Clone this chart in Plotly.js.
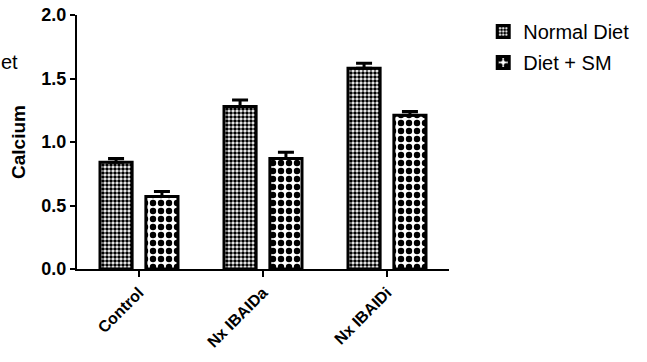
<!DOCTYPE html>
<html>
<head>
<meta charset="utf-8">
<script src="https://cdn.plot.ly/plotly-3.0.1.min.js"></script>
<style>html,body{margin:0;padding:0;background:#fff;}#chart{width:647px;height:362px;}</style>
</head>
<body>
<div id="chart"></div>
<script>
var categories = ["Control", "Nx IBAIDa", "Nx IBAIDi"];
var normalDiet = [0.84, 1.28, 1.58];
var normalDietErr = [0.03, 0.05, 0.04];
var dietSM = [0.57, 0.87, 1.21];
var dietSMErr = [0.04, 0.05, 0.03];
var yTicks = [0, 0.5, 1.0, 1.5, 2.0];
var yTickLabels = ["0.0", "0.5", "1.0", "1.5", "2.0"];

var F = "Arial, 'Liberation Sans', sans-serif";

var traces = [
  {
    type: "bar", name: "Normal Diet", x: categories, y: normalDiet,
    legendgroup: "a",
    marker: {color: "#ffffff", line: {color: "#000", width: 3},
      pattern: {shape: ".", size: 4, solidity: 0.62, fgcolor: "#000", fgopacity: 1, bgcolor: "#fff", fillmode: "overlay"}},
    error_y: {type: "data", array: normalDietErr, arrayminus: [0,0,0], symmetric: false,
      color: "#000", thickness: 3, width: 8}
  },
  {
    type: "bar", name: "Diet + SM", x: categories, y: dietSM,
    legendgroup: "b",
    marker: {color: "#ffffff", line: {color: "#000", width: 3},
      pattern: {shape: ".", size: 8, solidity: 0.5, fgcolor: "#000", fgopacity: 1, bgcolor: "#fff", fillmode: "overlay"}},
    error_y: {type: "data", array: dietSMErr, arrayminus: [0,0,0], symmetric: false,
      color: "#000", thickness: 3, width: 8}
  }
];

var layout = {
  width: 647, height: 362,
  margin: {l: 77, r: 189, t: 15, b: 93},
  paper_bgcolor: "#fff", plot_bgcolor: "#fff",
  font: {family: F, color: "#000"},
  barmode: "group", bargap: 0.26, bargroupgap: 0.3,
  showlegend: true,
  legend: {x: 1.092, y: 1.012, xanchor: "left", yanchor: "top",
    font: {family: F, size: 20, color: "#000"}, traceorder: "grouped", tracegroupgap: 2,
    bgcolor: "rgba(0,0,0,0)"},
  xaxis: {
    type: "category", range: [-0.5, 2.5], showline: true, linecolor: "#000", linewidth: 2,
    ticks: "outside", ticklen: 6, tickwidth: 2, tickcolor: "#000", tickangle: -45,
    tickfont: {family: F, size: 16, color: "#000", weight: "bold"},
    showgrid: false, zeroline: false, fixedrange: true
  },
  yaxis: {
    range: [0, 2.0], showline: true, linecolor: "#000", linewidth: 2,
    ticks: "outside", ticklen: 5, tickwidth: 2, tickcolor: "#000",
    tickvals: yTicks, ticktext: yTickLabels,
    tickfont: {family: F, size: 18, color: "#000", weight: "bold"},
    showgrid: false, zeroline: false,
    title: {text: "<b>Calcium</b>", font: {family: F, size: 19, color: "#000"}, standoff: 11}
  },
  annotations: [
    {text: "et", xref: "paper", yref: "paper", x: -80/381, y: 1 - (62-15)/254, xanchor: "left", yanchor: "middle",
     showarrow: false, font: {family: F, size: 20, color: "#000"}}
  ]
};

Plotly.newPlot("chart", traces, layout, {displayModeBar: false, staticPlot: true});
</script>
</body>
</html>
